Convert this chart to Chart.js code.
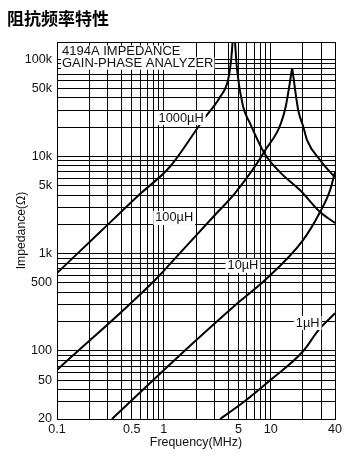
<!DOCTYPE html>
<html>
<head>
<meta charset="utf-8">
<title>阻抗频率特性</title>
<script src="https://cdn.jsdelivr.net/npm/chart.js@4/dist/chart.umd.min.js"></script>
<style>
  html, body { margin: 0; padding: 0; background: #fff; }
  #wrap { position: relative; width: 350px; height: 458px; }
  #heading {
    position: absolute; left: 7px; top: 8px; margin: 0;
    font: 700 17px/19px 'Noto Sans CJK SC', sans-serif; color: #000;
  }
  canvas { position: absolute; left: 0; top: 0; }
</style>
</head>
<body>
<div id="wrap">
  <canvas id="zChart" width="350" height="458"></canvas>
  <h1 id="heading">阻抗频率特性</h1>
</div>
<script>
/* ─── Data: impedance (Ω) vs frequency (MHz) per inductor ─── */
const freq1000 = [0.1, 0.253, 0.598, 1.14, 2.33, 3.36, 3.99, 4.26, 4.4, 4.52, 4.64, 4.85, 5.51, 6.41, 8.73, 12.2, 18.8, 29, 40];
const imp1000  = [633, 1670, 4100, 7830, 23700, 40800, 61000, 97900, 150000, 260000, 150000, 77300, 32800, 21900, 10800, 6900, 4510, 2680, 2070];

const freq100 = [0.1, 0.827, 1.42, 3.13, 4.64, 8.68, 13.6, 15.9, 18.1, 20.2, 21.9, 29, 36, 40];
const imp100  = [63.8, 536, 1020, 2620, 4200, 11100, 30000, 81000, 30000, 20200, 14700, 9180, 6900, 6140];

const freq10 = [0.327, 1.42, 5.17, 8.87, 20.1, 29, 36, 40];
const imp10  = [20, 91, 326, 536, 1380, 2680, 4510, 6900];

const freq1 = [3.36, 5.75, 9.88, 20.2, 28, 40];
const imp1  = [20, 30.6, 50, 100, 164, 244];

/* ─── Axis labels ─── */
const xLabelValues = [0.1, 0.5, 1, 5, 10, 40];
const xLabelText   = ['0.1', '0.5', '1', '5', '10', '40'];
const yLabelValues = [20, 50, 100, 500, 1000, 5000, 10000, 50000, 100000];
const yLabelText   = ['20', '50', '100', '500', '1k', '5k', '10k', '50k', '100k'];

/* ─── Curve captions ─── */
const captionText = ['1000µH', '100µH', '10µH', '1µH'];
const captionFreq = [1.45, 1.25, 5.5, 22.2];
const captionImp  = [24800, 2330, 750, 194];
const noteLines   = ['4194A IMPEDANCE', 'GAIN-PHASE ANALYZER'];

const FONT = "'Liberation Sans', Arial, Helvetica, sans-serif";
const X_MIN = 0.1, X_MAX = 40, Y_MIN = 20, Y_MAX = 150000;

// 1-2-…-9 log grid between min and max
function logGrid(min, max) {
  const out = [];
  for (let e = Math.floor(Math.log10(min)); e <= Math.ceil(Math.log10(max)); e++) {
    for (let m = 1; m <= 9; m++) {
      const v = +(m * Math.pow(10, e)).toPrecision(3);
      if (v >= min && v <= max) out.push(v);
    }
  }
  return out;
}

function pts(fs, zs) { return fs.map((f, i) => ({ x: f, y: zs[i] })); }

// resonant curves are split at the peak so the cusp stays sharp
function branches(fs, zs) {
  const p = zs.indexOf(Math.max(...zs));
  if (p === zs.length - 1) return [pts(fs, zs)];
  return [pts(fs.slice(0, p + 1), zs.slice(0, p + 1)), pts(fs.slice(p), zs.slice(p))];
}

const curves = [
  ...branches(freq1000, imp1000),
  ...branches(freq100, imp100),
  ...branches(freq10, imp10),
  ...branches(freq1, imp1)
];

const datasets = curves.map(d => ({
  data: d,
  showLine: true,
  borderColor: '#000',
  borderWidth: 2,
  pointRadius: 0,
  cubicInterpolationMode: 'monotone',
  clip: 0
}));

/* ─── Captions, note box and plot frame ─── */
const overlay = {
  id: 'overlay',
  afterDatasetsDraw(chart) {
    const { ctx, chartArea: a, scales: { x, y } } = chart;
    ctx.save();
    ctx.font = '12.8px ' + FONT;
    ctx.textBaseline = 'middle';

    ctx.textAlign = 'center';
    captionText.forEach((t, i) => {
      const px = x.getPixelForValue(captionFreq[i]);
      const py = y.getPixelForValue(captionImp[i]);
      const w = ctx.measureText(t).width + 4;
      ctx.fillStyle = '#fff';
      ctx.fillRect(px - w / 2, py - 7, w, 14);
      ctx.fillStyle = '#111';
      ctx.fillText(t, px, py);
    });

    ctx.textAlign = 'left';
    ctx.font = '13px ' + FONT;
    noteLines.forEach((t, i) => {
      const ty = a.top + 9.5 + i * 11.7;
      const w = ctx.measureText(t).width + 2;
      ctx.fillStyle = '#fff';
      ctx.fillRect(a.left + 4, ty - 6, w, 12.5);
      ctx.fillStyle = '#111';
      ctx.fillText(t, a.left + 5, ty);
    });

    ctx.strokeStyle = '#000';
    ctx.lineWidth = 1;
    ctx.strokeRect(a.left + 0.5, a.top + 0.5, a.right - a.left, a.bottom - a.top);
    ctx.restore();
  }
};

new Chart(document.getElementById('zChart'), {
  type: 'scatter',
  data: { datasets },
  plugins: [overlay],
  options: {
    responsive: false,
    animation: false,
    layout: { padding: { top: 42, right: 15, left: 0, bottom: 0 } },
    plugins: { legend: { display: false }, tooltip: { enabled: false } },
    scales: {
      x: {
        type: 'logarithmic',
        min: X_MIN,
        max: X_MAX,
        afterBuildTicks: s => { s.ticks = logGrid(X_MIN, X_MAX).map(v => ({ value: v })); },
        afterFit: s => { s.height = 39; },
        grid: { color: '#000', lineWidth: 1, drawTicks: false },
        border: { color: '#000' },
        ticks: {
          autoSkip: false, maxRotation: 0, padding: 3, color: '#111',
          font: { family: FONT, size: 12.6 },
          callback: v => { const i = xLabelValues.indexOf(v); return i < 0 ? '' : xLabelText[i]; }
        },
        title: {
          display: true, text: 'Frequency(MHz)', color: '#111',
          font: { family: FONT, size: 12.4 },
          padding: { top: 0, bottom: 8 }
        }
      },
      y: {
        type: 'logarithmic',
        min: Y_MIN,
        max: Y_MAX,
        afterBuildTicks: s => { s.ticks = logGrid(Y_MIN, 100000).map(v => ({ value: v })); },
        afterFit: s => { s.width = 57; },
        grid: { color: '#000', lineWidth: 1, drawTicks: false },
        border: { color: '#000' },
        ticks: {
          autoSkip: false, padding: 5, color: '#111',
          font: { family: FONT, size: 12.6 },
          callback: v => { const i = yLabelValues.indexOf(v); return i < 0 ? '' : yLabelText[i]; }
        },
        title: {
          display: true, text: 'Impedance(Ω)', color: '#111',
          font: { family: FONT, size: 12.2 },
          padding: { top: 14, bottom: 0 }
        }
      }
    }
  }
});
</script>
</body>
</html>
